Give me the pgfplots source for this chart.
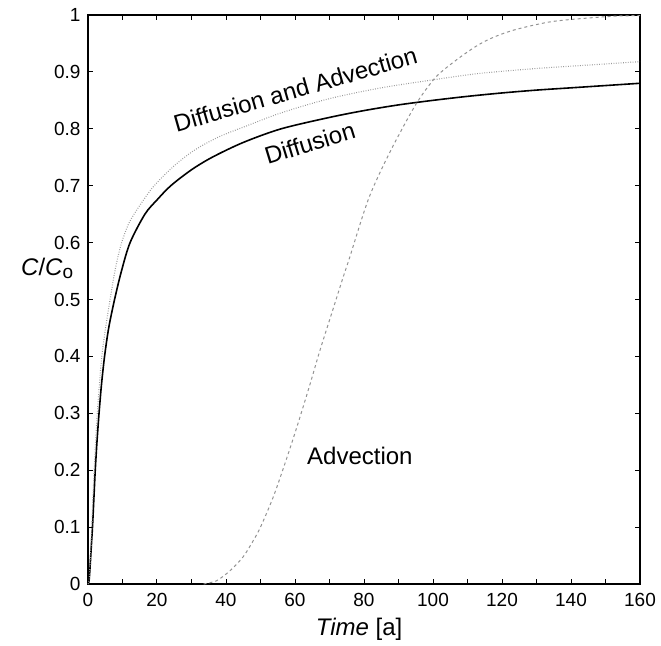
\documentclass[border=0pt]{standalone}
\usepackage{fontspec}
\setmainfont{Liberation Sans}
\usepackage{pgfplots}
\pgfplotsset{compat=1.18}
\usetikzlibrary{calc}

\begin{document}
\begin{tikzpicture}
\begin{axis}[
  scale only axis,
  width=552pt, height=569pt,
  xmin=0, xmax=160, ymin=0, ymax=1,
  xtick={0,20,...,160},
  minor x tick num=1,
  ytick={0,0.1,0.2,0.3,0.4,0.5,0.6,0.7,0.8,0.9,1},
  yticklabels={0,0.1,0.2,0.3,0.4,0.5,0.6,0.7,0.8,0.9,1},
  tick align=inside,
  major tick length=5pt, minor tick length=5pt,
  every tick/.style={black, line width=1pt},
  axis line style={line width=1.5pt},
  /pgf/number format/assume math mode=true,
  tick label style={font=\fontsize{19}{22}\selectfont},
  xticklabel style={yshift=-6pt},
  yticklabel style={xshift=-4pt},
  every axis x label/.style={at={(axis description cs:0.491,-0.079)}, anchor=center,
    font=\fontsize{24}{28}\selectfont},
  every axis y label/.style={at={(axis description cs:-0.074,0.555)}, anchor=center,
    font=\fontsize{24}{28}\selectfont},
  xlabel={\textit{Time} [a]},
  ylabel={\textit{C}/\textit{C}\raisebox{-0.12em}{\fontsize{19}{22}\selectfont o}},
  clip=false,
]
% Diffusion
\addplot[black, line width=1.6pt, smooth, tension=0.5] coordinates {
  (0,0) (0.3,0.005) (0.6,0.03) (1,0.07) (1.3,0.1) (1.7,0.15) (2.1,0.2)
  (2.6,0.25) (3.2,0.3) (3.9,0.35) (4.8,0.4) (6,0.45) (7.7,0.5) (9.7,0.55)
  (12.2,0.6) (16.5,0.65) (20,0.675) (24,0.7) (30,0.728) (36,0.75) (45,0.776)
  (56,0.8) (70,0.82) (80,0.832) (90,0.842) (100,0.85) (110,0.857) (120,0.863)
  (130,0.868) (140,0.872) (150,0.876) (160,0.88)};
% Diffusion and Advection
\addplot[gray!80, line width=1.1pt, dash pattern=on 0.8pt off 1.6pt, smooth, tension=0.5] coordinates {
  (0,0) (0.3,0.006) (0.6,0.035) (1.1,0.1) (1.4,0.15) (1.8,0.2) (2.2,0.25)
  (2.7,0.3) (3.3,0.35) (4,0.4) (5.1,0.45) (6.4,0.5) (7.9,0.553) (9.6,0.597)
  (11.7,0.632) (14.1,0.657) (18.9,0.698) (25,0.735) (31,0.763) (38,0.786)
  (45.5,0.804) (56,0.828) (70,0.853) (85,0.872) (100,0.886) (113,0.897)
  (130,0.906) (145,0.912) (160,0.918)};
% Advection
\addplot[gray!85, line width=1pt, dash pattern=on 3pt off 3pt, smooth, tension=0.5] coordinates {
  (33.5,0) (37,0.005) (39.7,0.016) (42,0.028) (45,0.048) (47.5,0.072) (50,0.10)
  (53.7,0.153) (57.1,0.212) (60.5,0.275) (64.3,0.35) (67.2,0.41) (70.6,0.475)
  (74,0.54) (75.8,0.573) (81.2,0.675) (86.6,0.748) (92.4,0.815) (96.2,0.854)
  (101,0.892) (107,0.922) (113,0.947) (118,0.962) (124.3,0.975) (134,0.988)
  (143.6,0.994) (153,0.998) (160,0.999)};
\node[rotate=16, font=\fontsize{24}{28}\selectfont] at (axis cs:60.1,0.869) {Diffusion and Advection};
\node[rotate=17, font=\fontsize{24}{28}\selectfont] at (axis cs:64.3,0.775) {Diffusion};
\node[font=\fontsize{24}{28}\selectfont] at (axis cs:78.8,0.225) {Advection};
\end{axis}
\path ($(current axis.south west)+(-88pt,-61pt)$) rectangle ($(current axis.north east)+(21pt,15pt)$);
\end{tikzpicture}
\end{document}
